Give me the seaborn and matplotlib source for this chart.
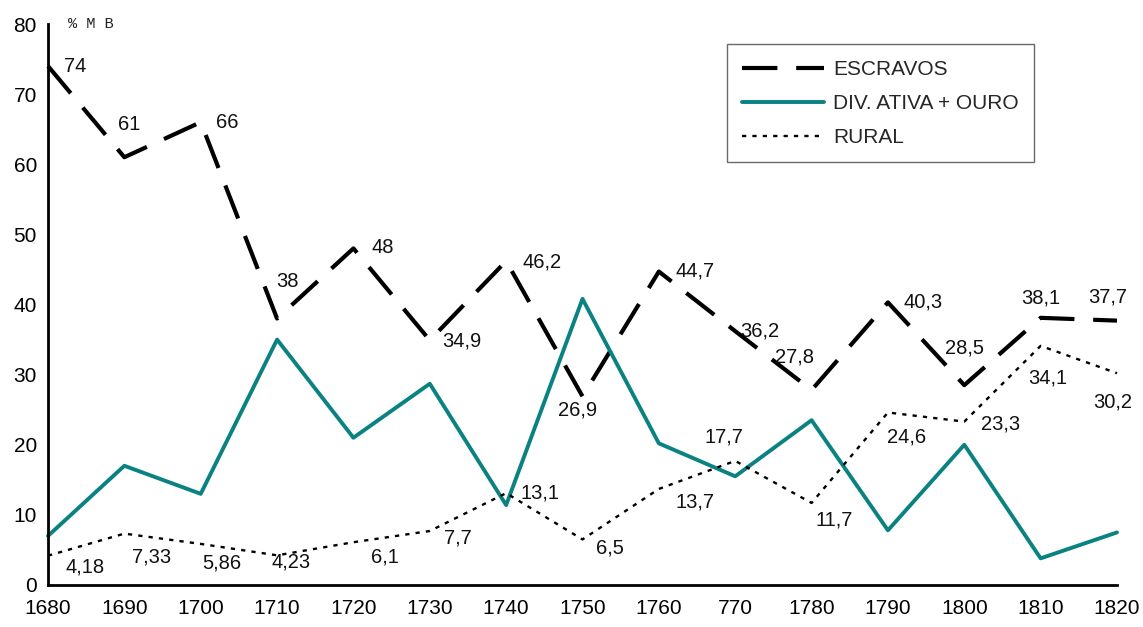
import matplotlib
matplotlib.use("Agg")
import matplotlib.pyplot as plt
import seaborn as sns
import pandas as pd

# Decades on the horizontal axis (as printed)
years = ["1680", "1690", "1700", "1710", "1720", "1730", "1740", "1750",
         "1760", "770", "1780", "1790", "1800", "1810", "1820"]

# Shares of each item, in % of the total
escravos = [74, 61, 66, 38, 48, 34.9, 46.2, 26.9, 44.7, 36.2, 27.8, 40.3, 28.5, 38.1, 37.7]
div_ativa_ouro = [7.0, 17.0, 13.0, 35.0, 21.0, 28.7, 11.4, 40.8, 20.2, 15.5, 23.5, 7.8, 20.0, 3.8, 7.5]
rural = [4.18, 7.33, 5.86, 4.23, 6.1, 7.7, 13.1, 6.5, 13.7, 17.7, 11.7, 24.6, 23.3, 34.1, 30.2]

escravos_labels = ["74", "61", "66", "38", "48", "34,9", "46,2", "26,9", "44,7", "36,2",
                   "27,8", "40,3", "28,5", "38,1", "37,7"]
rural_labels = ["4,18", "7,33", "5,86", "4,23", "6,1", "7,7", "13,1", "6,5", "13,7", "17,7",
                "11,7", "24,6", "23,3", "34,1", "30,2"]

# label offsets in pixels (dx, dy; dy positive = downward)
esc_off = [(27, 0), (5, -33), (27, 0), (10, -37), (29, -1), (32, 1), (36, 1), (-5, 14),
           (36, -1), (25, 0), (-17, -33), (35, 0), (0, -37), (0, -20), (-9, -24)]
rur_off = [(37, 11), (27, 23), (21, 19), (14, 7), (32, 15), (28, 7), (34, 0), (27, 9),
           (36, 13), (-11, -24), (23, 17), (19, 25), (36, 2), (7, 32), (-4, 29)]

sns.set_theme(style="white")
plt.rcParams["font.family"] = ["Liberation Sans", "DejaVu Sans"]

pos = list(range(len(years)))
df = pd.DataFrame({"pos": pos, "esc": escravos, "div": div_ativa_ouro, "rur": rural})

fig = plt.figure(figsize=(11.43, 6.27), dpi=100)
ax = fig.add_axes([48 / 1143, 42 / 627, 1069 / 1143, 561 / 627])

teal = "#0a8282"
sns.lineplot(data=df, x="pos", y="esc", ax=ax, color="black", lw=3.0,
             label="ESCRAVOS", clip_on=False)
sns.lineplot(data=df, x="pos", y="div", ax=ax, color=teal, lw=2.8,
             label="DIV. ATIVA + OURO", clip_on=False)
sns.lineplot(data=df, x="pos", y="rur", ax=ax, color="black", lw=1.7,
             label="RURAL", clip_on=False)
lines = ax.get_lines()
lines[0].set_dashes([8.5, 4.5])
lines[0].set_dash_capstyle("butt")
lines[2].set_dashes([1.8, 2.6])

lab_font = dict(family=["Liberation Sans Narrow", "Liberation Sans"], fontsize=14.5,
                color="#111111")
for x, y, t, (dx, dy) in zip(pos, escravos, escravos_labels, esc_off):
    ax.annotate(t, (x, y), xytext=(dx * 0.72, -dy * 0.72), textcoords="offset points",
                ha="center", va="center", **lab_font)
for x, y, t, (dx, dy) in zip(pos, rural, rural_labels, rur_off):
    ax.annotate(t, (x, y), xytext=(dx * 0.72, -dy * 0.72), textcoords="offset points",
                ha="center", va="center", **lab_font)

ax.set_xlim(0, 14)
ax.set_ylim(0, 80)
ax.set_xticks(pos)
ax.set_xticklabels(years)
ax.set_yticks(range(0, 81, 10))
ax.set_xlabel("")
ax.set_ylabel("")
ax.tick_params(axis="both", direction="inout", length=10, width=1.5, colors="black",
               labelsize=15)
ax.tick_params(axis="x", pad=5)
ax.tick_params(axis="y", pad=3)
sns.despine(ax=ax)
for s in ("left", "bottom"):
    ax.spines[s].set_color("black")
    ax.spines[s].set_linewidth(2)

ax.text(0.019, 1.0, "% M B", transform=ax.transAxes, ha="left", va="center",
        family=["Liberation Mono", "DejaVu Sans Mono"], fontsize=11, color="#222222")

handles, labels = ax.get_legend_handles_labels()
leg = ax.legend(handles, labels, loc="upper left", bbox_to_anchor=(0.635, 0.964),
                borderaxespad=0, frameon=True, fancybox=False,
                handlelength=3.9, handletextpad=0.45, labelspacing=0.72,
                borderpad=0.75, prop={"family": ["Liberation Sans"], "size": 15})
leg.get_frame().set_edgecolor("#444444")
leg.get_frame().set_linewidth(1.0)

fig.savefig("out.png", dpi=100, facecolor="white")
